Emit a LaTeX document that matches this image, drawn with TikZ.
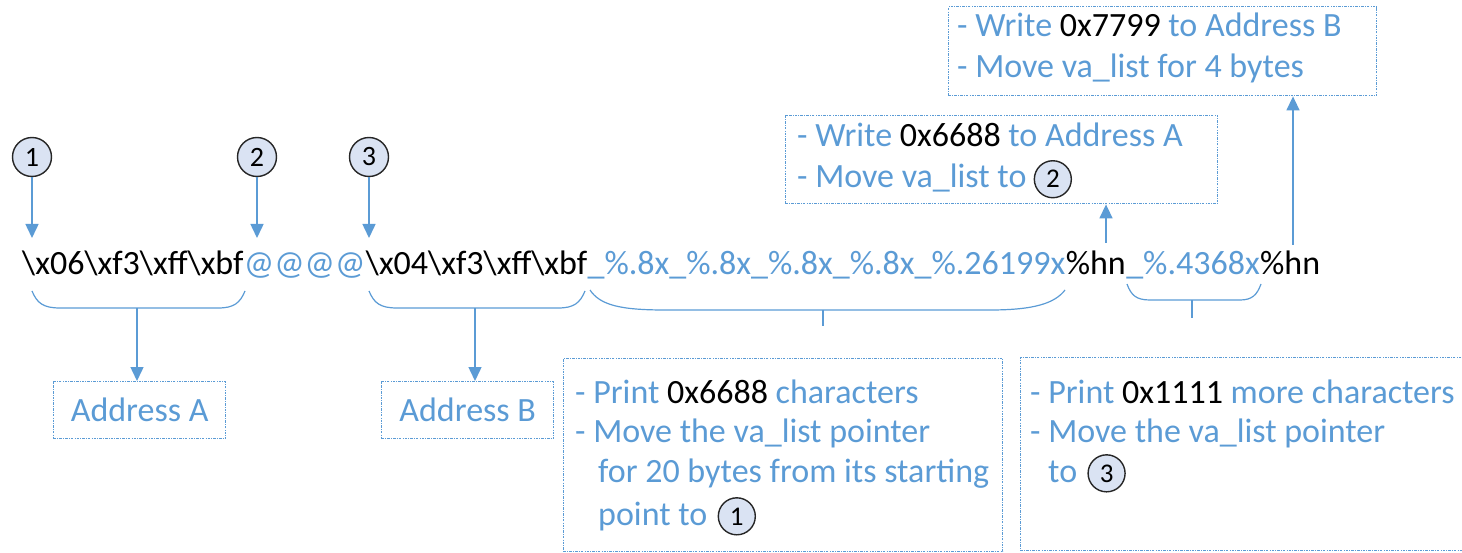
\documentclass[tikz,border=0pt]{standalone}
\usepackage{fontspec}
\setmainfont{Carlito}
\usetikzlibrary{arrows.meta}
\definecolor{cblue}{HTML}{5B9BD5}
\definecolor{cfill}{HTML}{DAE3F3}
\begin{document}
\begin{tikzpicture}[x=1pt,y=-1pt,
  conn/.style={cblue, line width=1.5pt, -{Triangle[length=14pt,width=13pt]}},
  brace/.style={cblue, line width=1.2pt},
  numc/.style={circle, draw=black!85, fill=cfill, line width=1.4pt, minimum size=39pt, inner sep=0pt, font=\fontsize{28}{30}\selectfont},
  numcs/.style={circle, draw=black!85, fill=cfill, line width=1.4pt, minimum size=37pt, inner sep=0pt, font=\fontsize{27}{30}\selectfont},
  dbox/.style={draw=cblue, line width=1.4pt, dash pattern=on 2.5pt off 1.2pt on 0.8pt off 1.2pt, inner sep=0pt, anchor=north west},
  mainstr/.style={font=\fontsize{34}{40}\selectfont, inner sep=0pt, anchor=base west},
  boxtxt/.style={font=\fontsize{34}{40}\selectfont, text=cblue, inner sep=0pt, anchor=base west}
]
\useasboundingbox (0,0) rectangle (1462,553);

% main string
\node[mainstr] (s1) at (22,275) {\textbackslash x06\textbackslash xf3\textbackslash xff\textbackslash xbf};
\node[mainstr, text=cblue] (s2) at (s1.base east) {@@@@};
\node[mainstr] (s3) at (s2.base east) {\textbackslash x04\textbackslash xf3\textbackslash xff\textbackslash xbf};
\node[mainstr, text=cblue] (s4) at (s3.base east) {\_\%.8x\_\%.8x\_\%.8x\_\%.8x\_\%.26199x};
\node[mainstr] (s5) at (s4.base east) {\%hn};
\node[mainstr, text=cblue] (s6) at (s5.base east) {\_\%.4368x};
\node[mainstr] (s7) at (s6.base east) {\%hn};

% numbered circles
\node[numc] (c1) at (32,157) {1};
\node[numc] (c2) at (257,157) {2};
\node[numc] (c3) at (369,157) {3};
\coordinate (t1) at (32,238);
\coordinate (t2) at (257,238);
\coordinate (t3) at (369,238);
\draw[conn] (c1.south) -- (t1);
\draw[conn] (c2.south) -- (t2);
\draw[conn] (c3.south) -- (t3);

% top box
\node[dbox, minimum width=428pt, minimum height=89pt] (bT) at (948,6) {};
\node[boxtxt] (bT1) at (957,37) {- Write \textcolor{black}{0x7799} to Address B};
\node[boxtxt] (bT2) at (957,78) {- Move va\_list for 4 bytes};

% middle box
\node[dbox, minimum width=432pt, minimum height=88pt] (bM) at (785,115) {};
\node[boxtxt] (bM1) at (797,147) {- Write \textcolor{black}{0x6688} to Address A};
\node[boxtxt] (bM2) at (797,188) {- Move va\_list to};
\node[numcs, anchor=base west] (bMc) at ([xshift=7pt]bM2.base east) {2};

% arrows up
\coordinate (u1) at (1106,243);
\coordinate (u2) at (1293,245);
\draw[conn] (u1) -- (u1 |- bM.south);
\draw[conn] (u2) -- (u2 |- bT.south);

% braces
\draw[brace] (32,291) .. controls (37,303) and (43,308) .. (60,308) -- (218,308) .. controls (234,308) and (240,303) .. (245,291);
\draw[brace] (369,291) .. controls (374,303) and (380,308) .. (397,308) -- (558,308) .. controls (574,308) and (580,303) .. (585,291);
\draw[brace] (590,290) .. controls (600,305) and (620,310) .. (665,310) -- (990,310) .. controls (1035,310) and (1055,303) .. (1065,290);
\draw[brace] (1127,284) .. controls (1131,295) and (1136,300) .. (1150,300) -- (1240,300) .. controls (1252,300) and (1257,295) .. (1261,284);
\draw[brace] (823,310) -- (823,326);
\draw[brace] (1192,300) -- (1192,318);

% address boxes
\node[dbox, minimum width=172pt, minimum height=57pt, font=\fontsize{34}{40}\selectfont, text=cblue] (aA) at (53,381) {Address A};
\node[dbox, minimum width=172pt, minimum height=57pt, font=\fontsize{34}{40}\selectfont, text=cblue] (aB) at (381,381) {Address B};
\coordinate (b1) at (137,308);
\coordinate (b2) at (475,308);
\draw[conn] (b1) -- (b1 |- aA.north);
\draw[conn] (b2) -- (b2 |- aB.north);

% bottom middle box
\node[dbox, minimum width=439pt, minimum height=193pt] (bL) at (563,358) {};
\node[boxtxt] (bL1) at (575,403) {- Print \textcolor{black}{0x6688} characters};
\node[boxtxt] (bL2) at (575,442) {- Move the va\_list pointer};
\node[boxtxt] (bL3) at (598,482) {for 20 bytes from its starting};
\node[boxtxt] (bL4) at (598,525) {point to};
\node[numcs, anchor=base west] (bLc) at ([xshift=10pt]bL4.base east) {1};

% bottom right box
\node[dbox, minimum width=460pt, minimum height=193pt] (bR) at (1020,357) {};
\node[boxtxt] (bR1) at (1030,403) {- Print \textcolor{black}{0x1111} more characters};
\node[boxtxt] (bR2) at (1030,442) {- Move the va\_list pointer};
\node[boxtxt] (bR3) at (1048,482) {to};
\node[numcs, anchor=base west] (bRc) at ([xshift=10pt]bR3.base east) {3};
\end{tikzpicture}
\end{document}
